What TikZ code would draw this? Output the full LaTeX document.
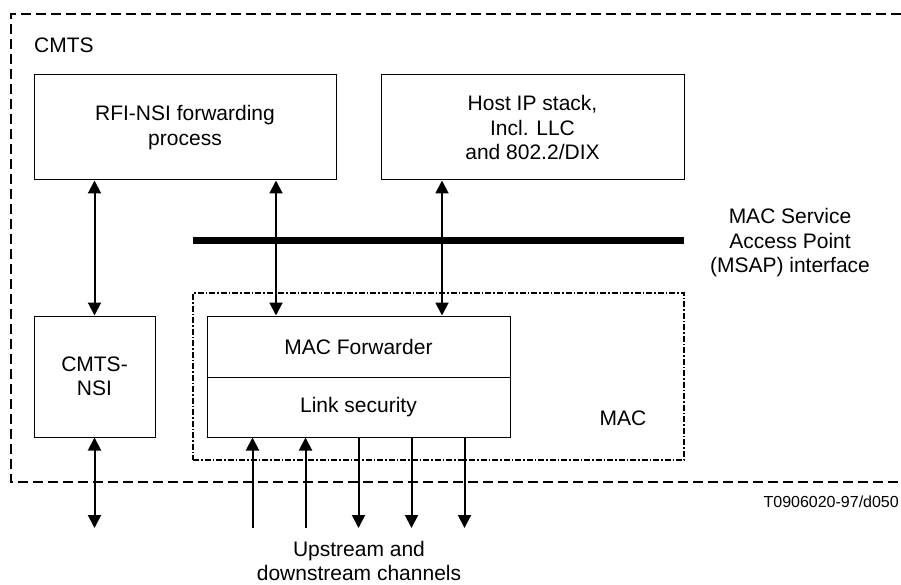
\documentclass[tikz,border=0pt]{standalone}
\usepackage{fontspec}
\setmainfont{Liberation Sans}
\usetikzlibrary{arrows.meta}

\begin{document}
\begin{tikzpicture}[x=1pt, y=-1pt,
        box/.style={draw, rectangle, line width=1pt, inner sep=0pt, align=center, font=\fontsize{21}{24.5}\selectfont},
        txt/.style={align=center, inner sep=0pt, font=\fontsize{21}{24.5}\selectfont},
        arrow/.style={-{Triangle[length=13pt,width=13pt]}, line width=2pt},
        both/.style={{Triangle[length=13pt,width=13pt]}-{Triangle[length=13pt,width=13pt]}, line width=2pt}
    ]
        \useasboundingbox (0,0) rectangle (901,585);

        % CMTS frame (open on the right)
        \draw[line width=1.3pt, dash pattern=on 10pt off 5pt] (901,14) -- (11,14) -- (11,482) -- (901,482);
        \node[txt, anchor=west] (cmts) at (34,45) {CMTS};

        \node[box, minimum width=302pt, minimum height=105pt] (rfi) at (185,127.5) {RFI-NSI forwarding\\process};
        \node[box, minimum width=303pt, minimum height=105pt] (host) at (532.5,127.5) {Host IP stack,\\Incl. LLC\\and 802.2/DIX};

        % MSAP bar
        \coordinate (msapL) at (193,240);
        \coordinate (msapR) at (684,240);
        \draw[line width=7pt] (msapL) -- (msapR);
        \node[txt] (msap) at (790,243) {MAC Service\\Access Point\\(MSAP) interface};

        % MAC region
        \node[draw, rectangle, line width=1.2pt, dash pattern=on 6pt off 2pt on 1.5pt off 2pt, minimum width=491pt, minimum height=167pt] (mac) at (438.5,376.5) {};
        \node[txt] (maclabel) at (623,418) {MAC};

        \node[box, minimum width=121pt, minimum height=121pt] (nsi) at (94.5,376.5) {CMTS-\\NSI};
        \node[box, minimum width=303pt, minimum height=61pt] (fwd) at (358.5,346.5) {MAC Forwarder};
        \node[box, minimum width=303pt, minimum height=60pt] (sec) at (358.5,407) {Link security};

        \draw[both] ([xshift=-90.5pt]rfi.south) -- (nsi.north);
        \draw[both] ([xshift=91pt]rfi.south) -- ([xshift=-82.5pt]fwd.north);
        \draw[both] ([xshift=-90.5pt]host.south) -- ([xshift=83.5pt]fwd.north);

        % channels
        \coordinate (nsiout) at (94.5,528);
        \coordinate (chan) at (358.5,528);
        \draw[both] (nsi.south) -- (nsiout);
        \foreach \dx in {-106,-53}
            \draw[arrow] ([xshift=\dx pt]chan) -- ([xshift=\dx pt]sec.south);
        \foreach \dx in {0,53,106}
            \draw[arrow] ([xshift=\dx pt]sec.south) -- ([xshift=\dx pt]chan);
        \node[txt] (chantext) at (359,561) {Upstream and\\downstream channels};

        \node[anchor=east, inner sep=0pt, font=\fontsize{16}{18}\selectfont] (ref) at (899,502) {T0906020-97/d050};
    \end{tikzpicture}
\end{document}
